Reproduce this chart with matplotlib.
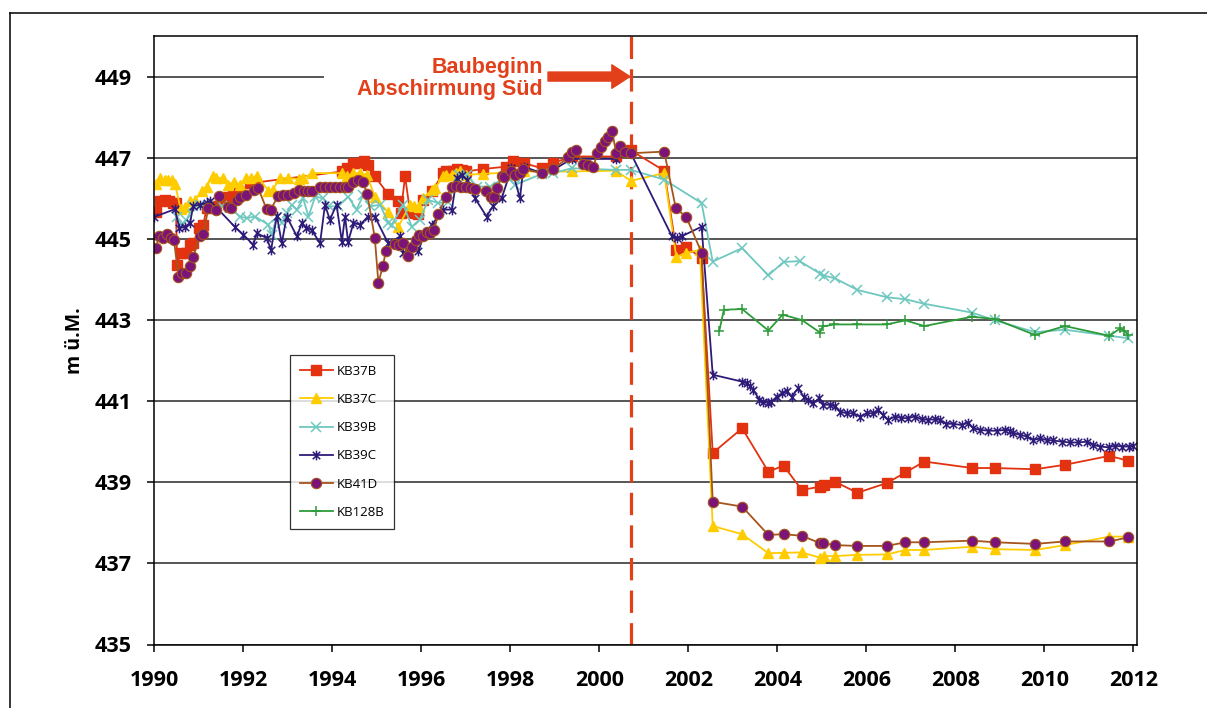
import numpy as np
import matplotlib
matplotlib.use("Agg")
from matplotlib import pyplot as plt
from matplotlib.path import Path
from matplotlib.lines import Line2D

plt.rcParams['font.family'] = ['Open Sans', 'DejaVu Sans']

# ---- data (Jahr, m ü.M.) ----
kb37b_x = [1990.04, 1990.13, 1990.25, 1990.34, 1990.42, 1990.49, 1990.52, 1990.60, 1990.72, 1990.81,
           1990.88, 1991.02, 1991.11, 1991.18, 1991.30, 1991.52, 1991.65, 1991.78, 1991.92, 1992.16,
           1994.22, 1994.33, 1994.48, 1994.59, 1994.72, 1994.81, 1994.96, 1995.26, 1995.49, 1995.54,
           1995.64, 1995.75, 1995.86, 1995.94, 1996.05, 1996.24, 1996.50, 1996.57, 1996.69, 1996.80,
           1996.91, 1997.01, 1997.38, 1997.91, 1998.06, 1998.30, 1998.71, 1998.97, 1999.38, 2000.37,
           2000.71, 2001.46, 2001.73, 2001.96, 2002.30, 2002.55, 2003.21, 2003.80, 2004.14, 2004.55,
           2004.96, 2005.05, 2005.30, 2005.80, 2006.46, 2006.88, 2007.30, 2008.38, 2008.89, 2009.79,
           2010.46, 2011.46, 2011.88]
kb37b_y = [445.65, 445.94, 445.96, 445.94, 445.89, 445.88, 444.36, 444.65, 444.65, 444.85,
           444.89, 445.26, 445.35, 445.76, 445.80, 445.96, 446.03, 446.08, 446.13, 446.37,
           446.66, 446.74, 446.87, 446.87, 446.91, 446.82, 446.54, 446.10, 445.94, 445.63,
           446.54, 445.67, 445.63, 445.62, 445.96, 446.17, 446.62, 446.66, 446.68, 446.72,
           446.70, 446.66, 446.72, 446.78, 446.91, 446.87, 446.74, 446.87, 447.03, 447.03,
           447.18, 446.68, 444.73, 444.80, 444.52, 439.72, 440.33, 439.26, 439.41, 438.81,
           438.89, 438.92, 439.01, 438.74, 438.98, 439.24, 439.51, 439.35, 439.35, 439.32,
           439.43, 439.65, 439.53]

kb37c_x = [1990.04, 1990.13, 1990.25, 1990.32, 1990.40, 1990.47, 1990.60, 1990.70, 1990.81, 1990.92,
           1991.07, 1991.18, 1991.32, 1991.39, 1991.54, 1991.67, 1991.80, 1991.93, 1992.07, 1992.19,
           1992.31, 1992.57, 1992.67, 1992.82, 1993.02, 1993.26, 1993.35, 1993.56, 1994.22, 1994.33,
           1994.48, 1994.63, 1994.78, 1994.96, 1995.26, 1995.49, 1995.75, 1995.85, 1995.95, 1996.04,
           1996.24, 1996.31, 1996.50, 1996.57, 1996.69, 1996.78, 1996.87, 1997.01, 1997.38, 1998.30,
           1999.38, 2000.37, 2000.71, 2001.46, 2001.73, 2001.96, 2002.26, 2002.55, 2003.21, 2003.80,
           2004.14, 2004.55, 2004.96, 2005.05, 2005.30, 2005.80, 2006.46, 2006.88, 2007.30, 2008.38,
           2008.89, 2009.79, 2010.46, 2011.46, 2011.88]
kb37c_y = [446.36, 446.50, 446.46, 446.44, 446.46, 446.36, 445.73, 445.78, 445.94, 445.96,
           446.17, 446.29, 446.54, 446.50, 446.50, 446.33, 446.41, 446.33, 446.50, 446.50,
           446.55, 446.19, 446.21, 446.50, 446.50, 446.47, 446.50, 446.62, 446.62, 446.54,
           446.62, 446.62, 446.58, 446.04, 445.65, 445.30, 445.84, 445.80, 445.78, 446.00,
           446.21, 446.25, 446.54, 446.58, 446.58, 446.62, 446.66, 446.58, 446.60, 446.66,
           446.66, 446.68, 446.43, 446.62, 444.56, 444.65, 444.73, 437.92, 437.72, 437.25,
           437.26, 437.27, 437.14, 437.18, 437.18, 437.21, 437.22, 437.33, 437.33, 437.41,
           437.35, 437.33, 437.45, 437.66, 437.66]

kb39b_x = [1990.51, 1990.62, 1990.73, 1990.88, 1991.03, 1991.22, 1991.52, 1991.71, 1991.93, 1992.08,
           1992.27, 1992.57, 1992.64, 1992.76, 1992.87, 1992.98, 1993.09, 1993.21, 1993.35, 1993.47,
           1993.62, 1993.80, 1993.92, 1994.14, 1994.36, 1994.55, 1994.70, 1994.85, 1995.08, 1995.26,
           1995.34, 1995.60, 1995.79, 1995.97, 1996.16, 1996.39, 1996.61, 1996.84, 1997.02, 1997.25,
           1997.55, 1997.92, 1998.11, 1998.71, 1998.97, 1999.38, 2000.37, 2000.71, 2001.46, 2002.30,
           2002.55, 2003.21, 2003.80, 2004.14, 2004.50, 2004.97, 2005.06, 2005.29, 2005.80, 2006.46,
           2006.88, 2007.30, 2008.38, 2008.89, 2009.79, 2010.46, 2011.46, 2011.88]
kb39b_y = [445.55, 445.35, 445.47, 445.80, 445.84, 445.80, 445.80, 445.76, 445.55, 445.51,
           445.55, 445.35, 445.10, 445.55, 445.39, 445.63, 445.84, 445.72, 446.00, 445.55,
           446.04, 446.00, 445.80, 445.80, 446.04, 445.72, 446.08, 445.80, 445.84, 445.39,
           445.35, 445.84, 445.30, 445.47, 445.96, 445.88, 445.92, 446.58, 446.58, 446.29,
           446.29, 446.54, 446.33, 446.60, 446.62, 446.74, 446.70, 446.70, 446.46, 445.88,
           444.44, 444.77, 444.10, 444.43, 444.45, 444.14, 444.09, 444.03, 443.74, 443.56,
           443.51, 443.40, 443.18, 442.99, 442.70, 442.76, 442.61, 442.55]

kb39c_x = [1990.00, 1990.47, 1990.57, 1990.70, 1990.81, 1990.88, 1991.03, 1991.18, 1991.26, 1991.82,
           1992.01, 1992.23, 1992.31, 1992.53, 1992.63, 1992.76, 1992.87, 1992.98, 1993.21, 1993.32,
           1993.42, 1993.54, 1993.73, 1993.84, 1993.95, 1994.10, 1994.22, 1994.29, 1994.36, 1994.48,
           1994.63, 1994.81, 1994.96, 1995.26, 1995.53, 1995.60, 1995.71, 1995.94, 1996.05, 1996.24,
           1996.50, 1996.69, 1996.80, 1996.91, 1997.02, 1997.21, 1997.47, 1997.61, 1997.81, 1998.03,
           1998.22, 1998.30, 1998.71, 1998.97, 1999.38, 2000.37, 2000.71, 2001.63, 2001.75, 2001.85,
           2002.30, 2002.55, 2003.21, 2003.31, 2003.39, 2003.46, 2003.60, 2003.69, 2003.80, 2003.87,
           2003.99, 2004.10, 2004.21, 2004.32, 2004.47, 2004.59, 2004.70, 2004.81, 2004.94, 2005.03,
           2005.18, 2005.30, 2005.41, 2005.56, 2005.71, 2005.86, 2006.01, 2006.16, 2006.27, 2006.38,
           2006.49, 2006.64, 2006.79, 2006.94, 2007.09, 2007.24, 2007.39, 2007.54, 2007.65, 2007.80,
           2007.95, 2008.14, 2008.29, 2008.40, 2008.55, 2008.74, 2008.93, 2009.12, 2009.23, 2009.30,
           2009.45, 2009.60, 2009.75, 2009.90, 2010.05, 2010.20, 2010.39, 2010.58, 2010.76, 2010.95,
           2011.10, 2011.25, 2011.44, 2011.59, 2011.74, 2011.89, 2012.00]
kb39c_y = [445.54, 445.73, 445.26, 445.30, 445.39, 445.81, 445.84, 445.88, 445.94, 445.29,
           445.10, 444.85, 445.14, 445.02, 444.73, 445.57, 444.89, 445.55, 445.06, 445.39,
           445.26, 445.22, 444.89, 445.84, 445.47, 445.84, 444.93, 445.55, 444.93, 445.39,
           445.35, 445.55, 445.55, 444.89, 445.06, 444.65, 444.73, 444.69, 445.06, 445.35,
           445.72, 445.72, 446.50, 446.58, 446.46, 446.00, 445.55, 445.80, 446.00, 446.74,
           446.00, 446.78, 446.62, 446.70, 446.97, 446.97, 447.11, 445.07, 445.02, 445.06,
           445.30, 441.65, 441.48, 441.44, 441.36, 441.28, 441.03, 440.99, 440.95, 440.99,
           441.11, 441.19, 441.24, 441.11, 441.32, 441.11, 441.03, 440.95, 441.07, 440.91,
           440.91, 440.87, 440.74, 440.70, 440.70, 440.62, 440.70, 440.70, 440.78, 440.66,
           440.54, 440.62, 440.58, 440.58, 440.62, 440.55, 440.54, 440.55, 440.54, 440.44,
           440.44, 440.41, 440.47, 440.33, 440.29, 440.27, 440.27, 440.29, 440.27, 440.21,
           440.17, 440.13, 440.04, 440.08, 440.04, 440.03, 440.00, 439.98, 439.98, 440.00,
           439.92, 439.88, 439.86, 439.90, 439.88, 439.88, 439.90]

kb41d_x = [1990.04, 1990.12, 1990.21, 1990.29, 1990.38, 1990.45, 1990.55, 1990.62, 1990.72, 1990.81,
           1990.88, 1991.03, 1991.11, 1991.22, 1991.39, 1991.47, 1991.67, 1991.72, 1991.86, 1991.93,
           1992.07, 1992.25, 1992.34, 1992.53, 1992.62, 1992.79, 1992.90, 1993.02, 1993.14, 1993.26,
           1993.37, 1993.47, 1993.56, 1993.73, 1993.84, 1993.95, 1994.07, 1994.18, 1994.29, 1994.36,
           1994.48, 1994.59, 1994.69, 1994.79, 1994.96, 1995.04, 1995.14, 1995.21, 1995.41, 1995.51,
           1995.60, 1995.71, 1995.79, 1995.89, 1995.96, 1996.04, 1996.13, 1996.20, 1996.29, 1996.39,
           1996.56, 1996.69, 1996.78, 1996.89, 1997.01, 1997.11, 1997.21, 1997.46, 1997.56, 1997.64,
           1997.71, 1997.81, 1997.86, 1998.03, 1998.11, 1998.21, 1998.28, 1998.71, 1998.96, 1999.31,
           1999.40, 1999.49, 1999.64, 1999.75, 1999.87, 1999.96, 2000.03, 2000.13, 2000.20, 2000.29,
           2000.38, 2000.47, 2000.58, 2000.71, 2001.46, 2001.72, 2001.96, 2002.30, 2002.55, 2003.21,
           2003.80, 2004.14, 2004.55, 2004.96, 2005.02, 2005.29, 2005.80, 2006.46, 2006.88, 2007.30,
           2008.38, 2008.89, 2009.79, 2010.46, 2011.46, 2011.88]
kb41d_y = [444.77, 445.07, 445.02, 445.12, 445.02, 444.96, 444.06, 444.15, 444.15, 444.32,
           444.56, 445.06, 445.12, 445.76, 445.72, 446.06, 445.78, 445.76, 445.96, 446.03,
           446.08, 446.21, 446.25, 445.73, 445.72, 446.06, 446.08, 446.08, 446.13, 446.21,
           446.17, 446.17, 446.17, 446.29, 446.29, 446.29, 446.29, 446.29, 446.29, 446.29,
           446.41, 446.46, 446.41, 446.11, 445.02, 443.92, 444.32, 444.71, 444.88, 444.85,
           444.89, 444.58, 444.81, 444.96, 445.10, 445.07, 445.16, 445.14, 445.22, 445.62,
           446.04, 446.27, 446.31, 446.29, 446.27, 446.25, 446.23, 446.18, 446.03, 446.04,
           446.25, 446.54, 446.52, 446.68, 446.58, 446.63, 446.72, 446.62, 446.72, 447.01,
           447.13, 447.18, 446.85, 446.83, 446.78, 447.11, 447.26, 447.40, 447.52, 447.67,
           447.11, 447.28, 447.13, 447.11, 447.15, 445.76, 445.53, 444.66, 438.52, 438.40,
           437.70, 437.72, 437.68, 437.50, 437.50, 437.45, 437.43, 437.43, 437.52, 437.52,
           437.56, 437.52, 437.48, 437.54, 437.54, 437.64]

kb128b_x = [2002.70, 2002.80, 2003.21, 2003.80, 2004.12, 2004.55, 2004.96, 2005.02, 2005.28, 2005.80,
            2006.46, 2006.88, 2007.30, 2008.38, 2008.89, 2009.79, 2010.46, 2011.46, 2011.70, 2011.79,
            2011.88]
kb128b_y = [442.74, 443.25, 443.27, 442.74, 443.13, 443.00, 442.69, 442.84, 442.89, 442.89,
            442.89, 442.99, 442.85, 443.08, 443.02, 442.63, 442.85, 442.61, 442.79, 442.74,
            442.63]

baubeginn = 2000.71
year_ticks = list(range(1990, 2013, 2))
level_ticks = list(range(435, 450, 2))

# Excel-artiger Stern (x + senkrechter Strich)
stern = Path([(-1, -1), (1, 1), (-1, 1), (1, -1), (0, -1.3), (0, 1.3)],
             [Path.MOVETO, Path.LINETO, Path.MOVETO, Path.LINETO, Path.MOVETO, Path.LINETO])

rot = '#E2401B'

fig = plt.figure(figsize=(12.07, 7.08), dpi=100)
ax = fig.add_axes([154/1207, 63.5/708, 983/1207, 608.5/708])

ax.plot(kb37b_x, kb37b_y, color='#E2320F', lw=1.3, marker='s', ms=6.5, mec='#E2320F', mfc='#E2320F', label='KB37B')
ax.plot(kb37c_x, kb37c_y, color='#FFCC00', lw=1.3, marker='^', ms=7, mec='#FFCC00', mfc='#FFCC00', label='KB37C')
ax.plot(kb39b_x, kb39b_y, color='#6FC8C0', lw=1.3, marker='x', ms=6.5, mew=1.1, label='KB39B')
ax.plot(kb39c_x, kb39c_y, color='#2E1A78', lw=1.3, marker=stern, ms=7, mew=1.1, label='KB39C')
ax.plot(kb41d_x, kb41d_y, color='#A5541C', lw=1.3, marker='o', ms=7.5, mfc='#7B1479', mec='#A5541C', mew=0.8, label='KB41D')
ax.plot(kb128b_x, kb128b_y, color='#2E9B3A', lw=1.3, marker='+', ms=7, mew=1.1, label='KB128B')

ax.axvline(baubeginn, color=rot, lw=2.3, dashes=(7, 3.2), zorder=1.5)

ax.set_xlim(1990, 2012.08)
ax.set_ylim(435, 450)
ax.set_xticks(year_ticks)
ax.set_yticks(level_ticks)
ax.yaxis.grid(True, color='#3a3a3a', lw=1.2)
ax.set_axisbelow(True)
for s in ax.spines.values():
    s.set_color('black')
    s.set_linewidth(1.1)
ax.tick_params(direction='out', length=5, width=1.1, labelsize=15.5)
ax.tick_params(axis='x', pad=13)
ax.tick_params(axis='y', pad=11)
for lab in ax.get_xticklabels() + ax.get_yticklabels():
    lab.set_fontweight('bold')
ax.set_ylabel('m ü.M.', fontsize=14, fontweight='bold', labelpad=7)

# Beschriftung Baubeginn
ax.text(1998.74, 448.95, 'Baubeginn\nAbschirmung Süd', ha='right', va='center', multialignment='right',
        color=rot, fontsize=15.5, fontweight='bold', family=['Liberation Sans', 'DejaVu Sans'],
        linespacing=1.1, zorder=2.4,
        bbox=dict(boxstyle='square,pad=1.55', fc='white', ec='none'))
ax.annotate('', xy=(baubeginn - 0.02, 449), xytext=(1998.85, 449),
            arrowprops=dict(arrowstyle='simple,head_length=1.0,head_width=1.3,tail_width=0.5',
                            color=rot, shrinkA=0, shrinkB=0, mutation_scale=13), zorder=3)

leg = ax.legend(loc='upper left', bbox_to_anchor=(290/1207, 1 - 355/708), bbox_transform=fig.transFigure,
                borderaxespad=0, fontsize=9.5, frameon=True, fancybox=False, handlelength=2.5,
                handletextpad=0.3, labelspacing=1.15, borderpad=0.75)
leg.get_frame().set_edgecolor('black')
leg.get_frame().set_linewidth(0.9)

# äusserer Rahmen
fig.add_artist(Line2D([10/1207, 10/1207], [0, 1 - 13/708], transform=fig.transFigure, color='black', lw=1.1))
fig.add_artist(Line2D([10/1207, 1], [1 - 13/708, 1 - 13/708], transform=fig.transFigure, color='black', lw=1.1))

fig.savefig('out.png', dpi=100)
